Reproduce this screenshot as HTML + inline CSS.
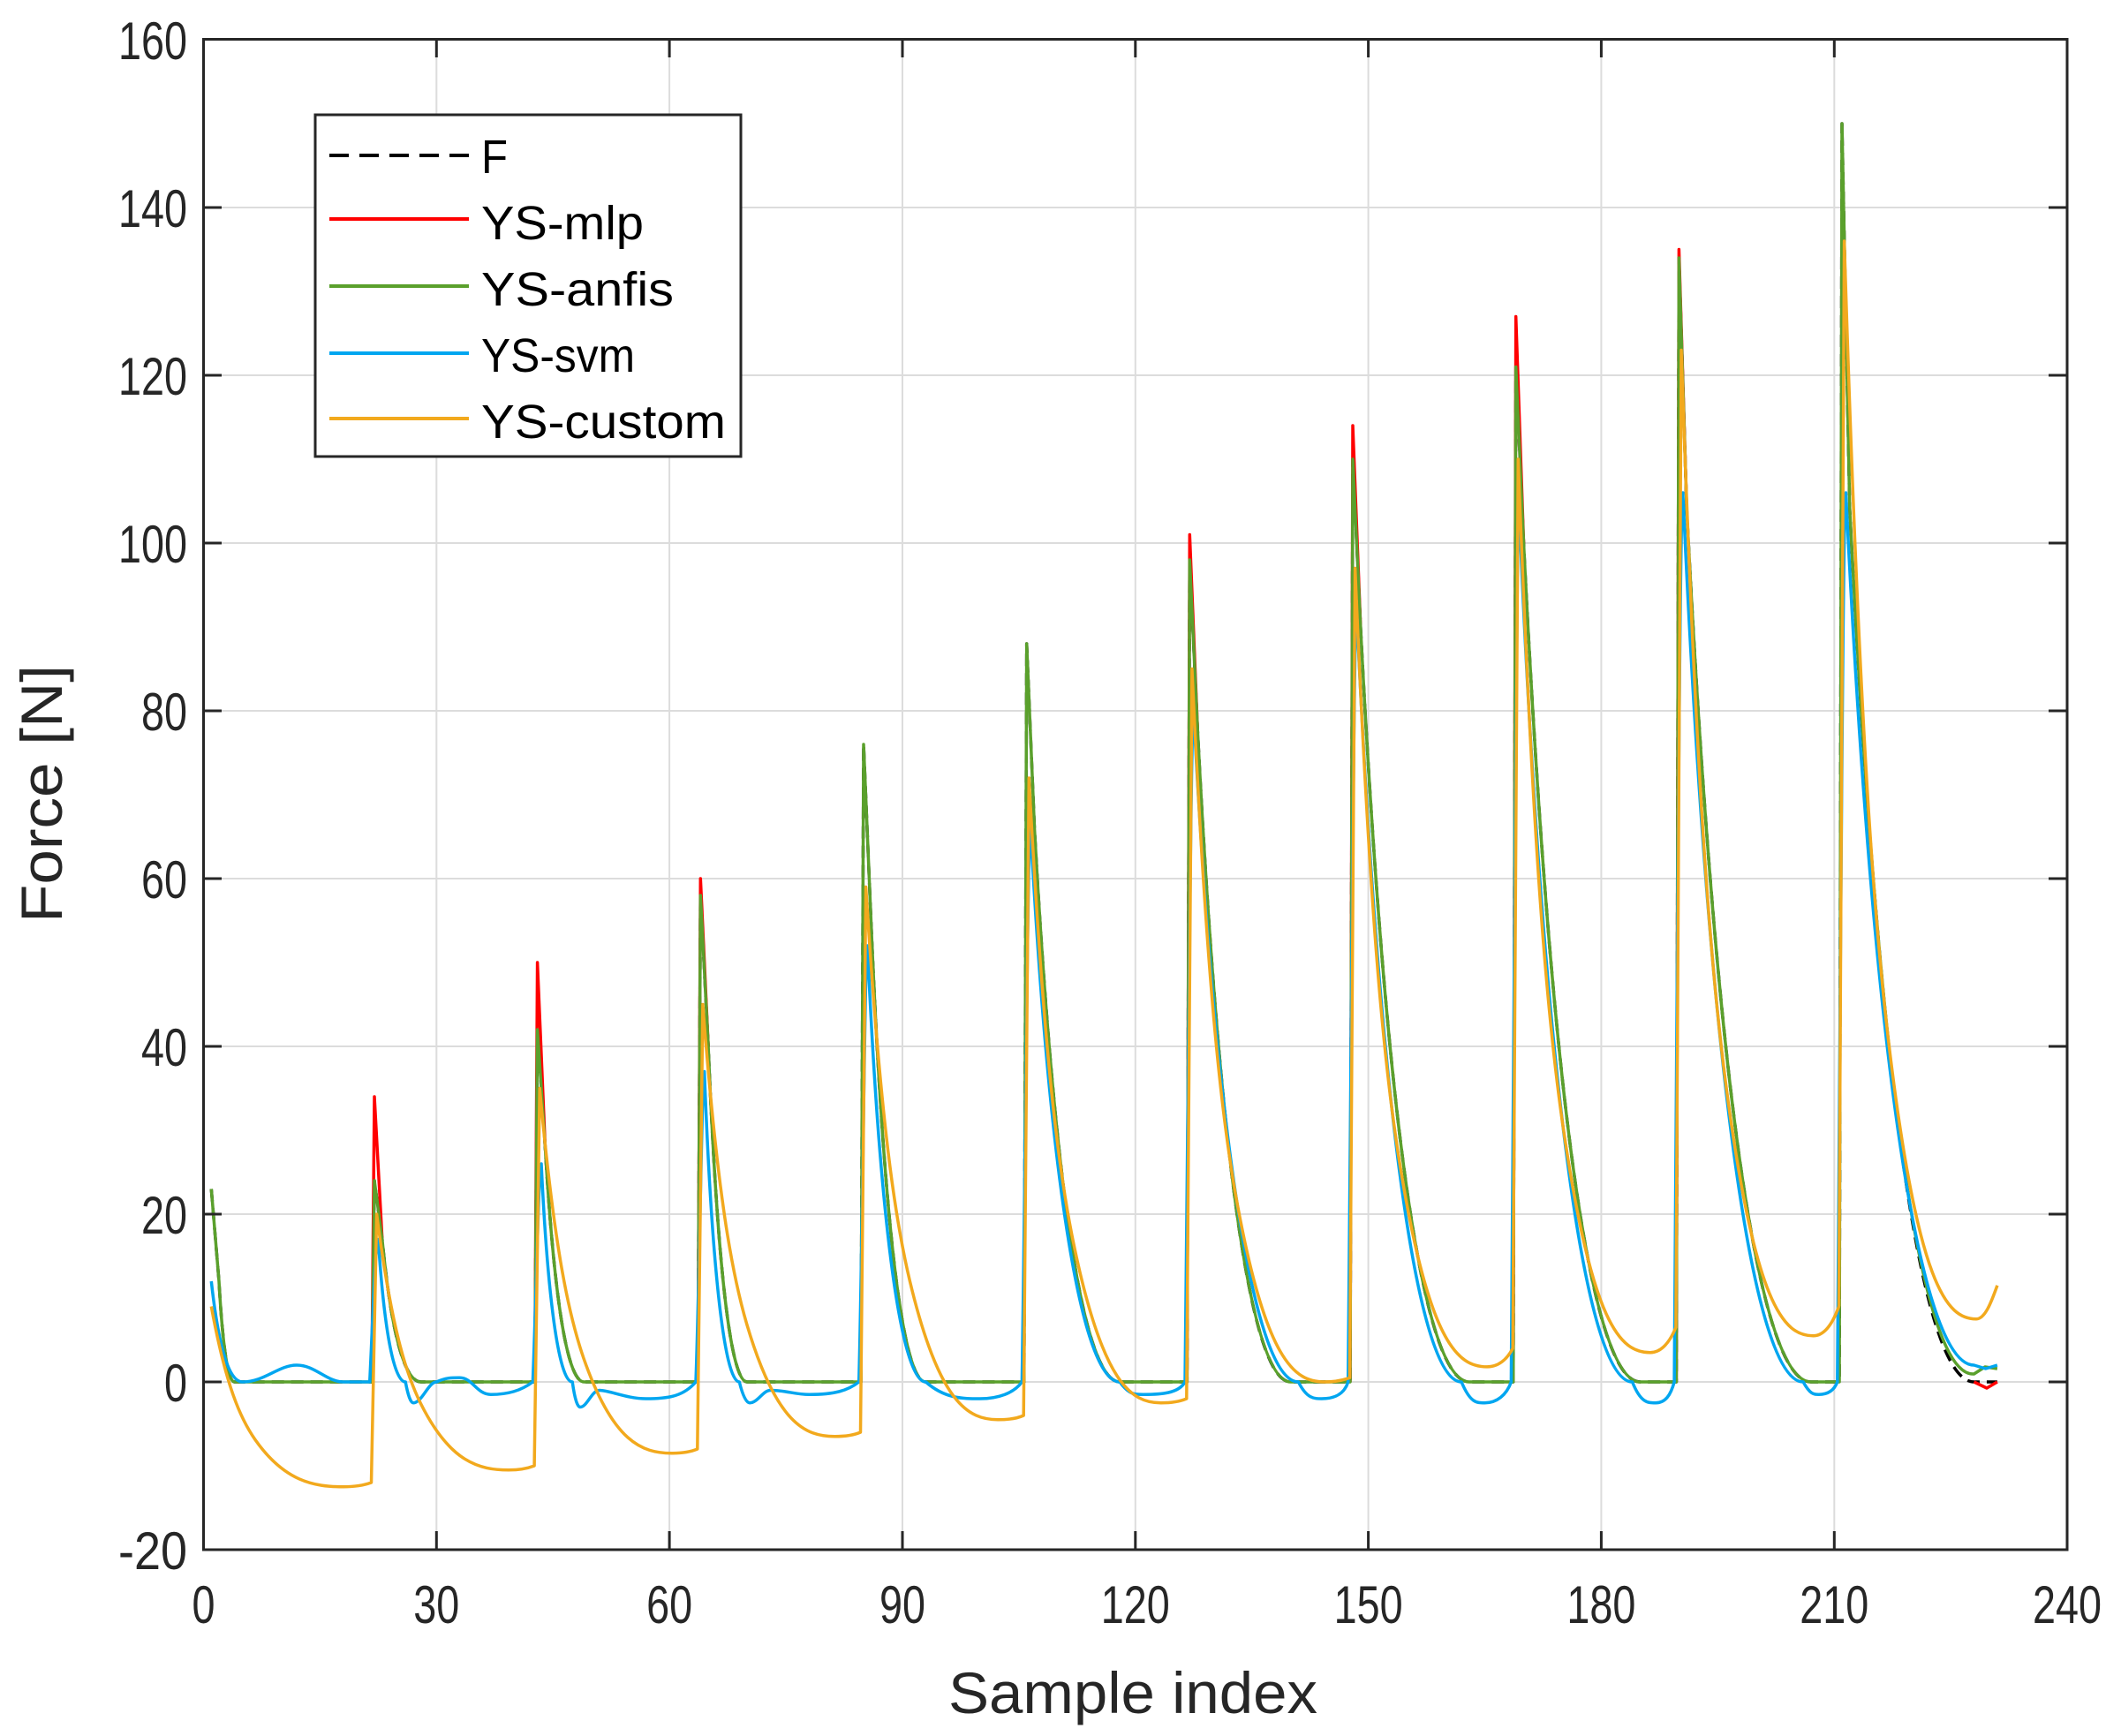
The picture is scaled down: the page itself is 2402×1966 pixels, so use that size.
<!DOCTYPE html>
<html><head><meta charset="utf-8"><style>
html,body{margin:0;padding:0;background:#fff;}
svg{display:block;font-family:"Liberation Sans",Arial,sans-serif;}
</style></head><body>
<svg width="2402" height="1966" viewBox="0 0 2402 1966" xmlns="http://www.w3.org/2000/svg">
<rect width="2402" height="1966" fill="#fff"/>
<g stroke="#dcdcdc" stroke-width="2">
<line x1="494.3" y1="44.5" x2="494.3" y2="1755"/>
<line x1="758.1" y1="44.5" x2="758.1" y2="1755"/>
<line x1="1022" y1="44.5" x2="1022" y2="1755"/>
<line x1="1285.8" y1="44.5" x2="1285.8" y2="1755"/>
<line x1="1549.6" y1="44.5" x2="1549.6" y2="1755"/>
<line x1="1813.4" y1="44.5" x2="1813.4" y2="1755"/>
<line x1="2077.3" y1="44.5" x2="2077.3" y2="1755"/>
<line x1="230.5" y1="1565" x2="2341" y2="1565"/>
<line x1="230.5" y1="1375" x2="2341" y2="1375"/>
<line x1="230.5" y1="1185" x2="2341" y2="1185"/>
<line x1="230.5" y1="995" x2="2341" y2="995"/>
<line x1="230.5" y1="805" x2="2341" y2="805"/>
<line x1="230.5" y1="615" x2="2341" y2="615"/>
<line x1="230.5" y1="425" x2="2341" y2="425"/>
<line x1="230.5" y1="235" x2="2341" y2="235"/>
</g>
<g fill="none" stroke-width="3.5" stroke-linejoin="round">
<path stroke="#000" stroke-dasharray="14,8" d="M239.3,1346.5 L248,1451 C252.5,1531 258.6,1565 265.6,1565 L421,1565 L424,1337 L432.8,1403.5 C443.8,1516.5 459.2,1565 476.8,1565 L605.6,1565 L608.6,1166 L617.4,1299 C628.4,1485.2 643.8,1565 661.4,1565 L790.3,1565 L793.3,1014 L802.1,1185 C813.1,1451 828.5,1565 846.1,1565 L975,1565 L978,843 L986.8,1052 C1002.2,1411 1023.8,1565 1048.4,1565 L1159.7,1565 L1162.7,729 L1171.5,938 C1195.7,1377 1229.5,1565 1268.2,1565 L1344.3,1565 L1347.3,634 L1356.1,824 C1382.5,1343 1419.4,1565 1461.6,1565 L1529,1565 L1532,520 L1540.8,710 C1571.6,1308.5 1614.7,1565 1663.9,1565 L1713.7,1565 L1716.7,415.5 L1725.5,615 C1758.5,1280 1804.6,1565 1857.4,1565 L1898.4,1565 L1901.4,292 L1910.2,577 C1945.4,1268.6 1994.6,1565 2050.9,1565 L2083,1565 L2086,140 L2094.8,577 C2130,1268.6 2179.2,1565 2235.5,1565 L2261.9,1565"/>
<path stroke="#ff0000" d="M421,1565 L424,1242 L432.8,1403.5 M605.6,1565 L608.6,1090 L617.4,1299 M790.3,1565 L793.3,995 L802.1,1185 M1344.3,1565 L1347.3,605.5 L1356.1,824 M1529,1565 L1532,482 L1540.8,710 M1713.7,1565 L1716.7,358.5 L1725.5,615 M1898.4,1565 L1901.4,282.5 L1910.2,577 M2235.5,1565 L2250,1572 L2261.9,1565"/>
<path stroke="#5aa02c" d="M239.3,1346.5 L248,1451 C252.5,1531 258.6,1565 265.6,1565 L421,1565 L424,1337 L432.8,1403.5 C443.8,1516.5 459.2,1565 476.8,1565 L605.6,1565 L608.6,1166 L617.4,1299 C628.4,1485.2 643.8,1565 661.4,1565 L790.3,1565 L793.3,1014 L802.1,1185 C813.1,1451 828.5,1565 846.1,1565 L975,1565 L978,843 L986.8,1052 C1002.2,1411 1023.8,1565 1048.4,1565 L1159.7,1565 L1162.7,729 L1171.5,938 C1195.7,1377 1229.5,1565 1268.2,1565 L1344.3,1565 L1347.3,634 L1356.1,824 C1382.5,1343 1419.4,1565 1461.6,1565 L1529,1565 L1532,520 L1540.8,710 C1571.6,1308.5 1614.7,1565 1663.9,1565 L1713.7,1565 L1716.7,415.5 L1725.5,615 C1758.5,1280 1804.6,1565 1857.4,1565 L1898.4,1565 L1901.4,292 L1910.2,577 C1945.4,1268.6 1994.6,1565 2050.9,1565 L2083,1565 L2086,140 L2094.8,577 C2130,1268.6 2179.2,1560 2235.5,1556 L2248,1548 L2261.9,1550"/>
<path stroke="#00a6f0" d="M239.3,1451 C248,1530 260,1565 274.5,1565 C300,1565 315,1546 336,1546 C357,1546 370,1565 388.8,1565 L418.7,1565
C422,1500 425,1403.5 428.4,1403.5 C434.6,1500.5 445.3,1565 459.2,1565 C462,1580 465,1588.75 468,1588.75 C478,1588.75 485,1565 494.4,1565 C505,1560 512,1560.25 520.7,1560.25 C535,1560.25 540,1579.25 555.9,1579.25 C575,1579.25 590,1575 603.4,1565
C607,1480 610,1318 613,1318 C620,1466 632.4,1565 648.2,1565 C651,1585 654,1593.5 657,1593.5 C665,1593.5 670,1574.5 679,1574.5 C690,1574.5 710,1584 731.8,1584 C760,1584 775,1580 788,1565
C792,1460 795,1213.5 797.7,1213.5 C805.6,1424.4 819.5,1565 837.3,1565 C841,1580 845,1588.75 849,1588.75 C858,1588.75 864,1574.5 872.5,1574.5 C890,1574.5 900,1579.25 916.4,1579.25 C945,1579.25 960,1575 972.7,1565
C977,1400 979.5,1071 982.4,1071 C995.6,1367.4 1018.7,1565 1048.4,1565 C1070,1584 1090,1584 1109.9,1584 C1130,1584 1148,1578 1157.4,1565
C1161.5,1300 1164,938 1167.1,938 C1187.3,1314.2 1222.7,1565 1268.2,1565 C1278,1579.25 1285,1579.25 1294.6,1579.25 C1315,1579.25 1335,1578 1342,1565
C1346,1200 1349,805 1351.7,805 C1375.4,1261 1417,1565 1470.4,1565 C1480,1584 1488,1584 1496.8,1584 C1510,1584 1522,1580 1526.7,1565
C1531,1100 1533.5,691 1536.4,691 C1560.1,1215.4 1601.7,1565 1655.1,1565 C1665,1588.75 1672,1588.75 1681.5,1588.75 C1695,1588.75 1706,1580 1711.4,1565
C1715.5,1000 1718,596 1721.1,596 C1746.6,1177.4 1791.2,1565 1848.6,1565 C1858,1588.75 1866,1588.75 1875,1588.75 C1886,1588.75 1892,1580 1896.1,1565
C1900,1000 1903,558 1905.8,558 C1933,1162.2 1980.8,1565 2042.1,1565 C2050,1579.25 2054,1579.25 2059.7,1579.25 C2070,1579.25 2077,1575 2080.8,1565
C2085,1000 2087.5,558 2090.4,558 C2119.4,1162.2 2170,1546 2235.5,1546 L2248.7,1550 L2261.9,1546"/>
<path stroke="#f2a91d" d="M239.3,1479.5 C255.9,1570.2 272.5,1607 289.1,1630.6 C322.4,1677.9 355.6,1683.75 388.8,1683.75 C405,1683.75 415,1681 420.5,1679 L426.6,1375
C443.2,1503.6 459.8,1555.8 476.4,1589.4 C509.7,1656.4 542.9,1664.75 576.1,1664.75 C592,1664.75 600,1662 605.1,1660 L611.2,1232.5
C627.8,1416 644.4,1490.3 661,1538.3 C694.3,1633.8 727.5,1645.75 760.7,1645.75 C777,1645.75 785,1643 789.8,1641 L795.9,1137.5
C812.5,1354.8 829.1,1442.8 845.7,1499.5 C879,1612.6 912.2,1626.75 945.4,1626.75 C961,1626.75 970,1624 974.5,1622 L980.6,1004.5
C997.2,1272.3 1013.8,1380.9 1030.4,1450.9 C1063.7,1590.3 1096.9,1607.75 1130.1,1607.75 C1146,1607.75 1155,1605 1159.2,1603 L1165.3,881
C1181.9,1195.3 1198.5,1322.7 1215.1,1404.7 C1248.4,1568.2 1281.6,1588.75 1314.8,1588.75 C1330,1588.75 1339,1586 1343.8,1584 L1349.9,757.5
C1366.5,1116 1383.1,1261.4 1399.7,1355.05 C1433,1541.5 1466.2,1565 1499.4,1565 C1515,1565 1524,1562 1528.5,1560.25 L1534.6,643.5
C1551.2,1045 1567.8,1207.8 1584.4,1312.8 C1617.7,1521.7 1650.9,1547.9 1684.1,1547.9 C1700,1547.9 1709,1535 1713.2,1527 L1719.3,520
C1735.9,969.25 1752.5,1151.4 1769.1,1268.7 C1802.4,1502.4 1835.6,1531.75 1868.8,1531.75 C1884,1531.75 1893,1515 1897.9,1503.25 L1904,396.5
C1920.6,892.1 1937.2,1093 1953.8,1222.5 C1987.1,1480.4 2020.3,1512.75 2053.5,1512.75 C2069,1512.75 2078,1492 2082.5,1479.5 L2088.6,273
C2105.2,815 2121.8,1034.7 2138.4,1176.4 C2171.7,1458.3 2204.9,1493.75 2238.1,1493.75 C2248,1493.75 2255,1475 2261.9,1455.75"/>
</g>
<rect x="230.5" y="44.5" width="2110.5" height="1710.5" fill="none" stroke="#262626" stroke-width="3"/>
<g stroke="#262626" stroke-width="3">
<line x1="494.3" y1="1755" x2="494.3" y2="1734"/><line x1="758.1" y1="1755" x2="758.1" y2="1734"/><line x1="1022" y1="1755" x2="1022" y2="1734"/><line x1="1285.8" y1="1755" x2="1285.8" y2="1734"/><line x1="1549.6" y1="1755" x2="1549.6" y2="1734"/><line x1="1813.4" y1="1755" x2="1813.4" y2="1734"/><line x1="2077.3" y1="1755" x2="2077.3" y2="1734"/>
<line x1="494.3" y1="44.5" x2="494.3" y2="65"/><line x1="758.1" y1="44.5" x2="758.1" y2="65"/><line x1="1022" y1="44.5" x2="1022" y2="65"/><line x1="1285.8" y1="44.5" x2="1285.8" y2="65"/><line x1="1549.6" y1="44.5" x2="1549.6" y2="65"/><line x1="1813.4" y1="44.5" x2="1813.4" y2="65"/><line x1="2077.3" y1="44.5" x2="2077.3" y2="65"/>
<line x1="230.5" y1="1565" x2="251" y2="1565"/><line x1="230.5" y1="1375" x2="251" y2="1375"/><line x1="230.5" y1="1185" x2="251" y2="1185"/><line x1="230.5" y1="995" x2="251" y2="995"/><line x1="230.5" y1="805" x2="251" y2="805"/><line x1="230.5" y1="615" x2="251" y2="615"/><line x1="230.5" y1="425" x2="251" y2="425"/><line x1="230.5" y1="235" x2="251" y2="235"/>
<line x1="2341" y1="1565" x2="2320" y2="1565"/><line x1="2341" y1="1375" x2="2320" y2="1375"/><line x1="2341" y1="1185" x2="2320" y2="1185"/><line x1="2341" y1="995" x2="2320" y2="995"/><line x1="2341" y1="805" x2="2320" y2="805"/><line x1="2341" y1="615" x2="2320" y2="615"/><line x1="2341" y1="425" x2="2320" y2="425"/><line x1="2341" y1="235" x2="2320" y2="235"/>
</g>
<g font-size="60" fill="#262626" text-anchor="end">
<text x="212" y="1777" textLength="78" lengthAdjust="spacingAndGlyphs">-20</text>
<text x="212" y="1587" textLength="26" lengthAdjust="spacingAndGlyphs">0</text>
<text x="212" y="1397" textLength="52" lengthAdjust="spacingAndGlyphs">20</text>
<text x="212" y="1207" textLength="52" lengthAdjust="spacingAndGlyphs">40</text>
<text x="212" y="1017" textLength="52" lengthAdjust="spacingAndGlyphs">60</text>
<text x="212" y="827" textLength="52" lengthAdjust="spacingAndGlyphs">80</text>
<text x="212" y="637" textLength="78" lengthAdjust="spacingAndGlyphs">100</text>
<text x="212" y="447" textLength="78" lengthAdjust="spacingAndGlyphs">120</text>
<text x="212" y="257" textLength="78" lengthAdjust="spacingAndGlyphs">140</text>
<text x="212" y="67" textLength="78" lengthAdjust="spacingAndGlyphs">160</text>
</g>
<g font-size="60" fill="#262626" text-anchor="middle">
<text x="230.5" y="1838" textLength="26" lengthAdjust="spacingAndGlyphs">0</text>
<text x="494.3" y="1838" textLength="52" lengthAdjust="spacingAndGlyphs">30</text>
<text x="758.1" y="1838" textLength="52" lengthAdjust="spacingAndGlyphs">60</text>
<text x="1022" y="1838" textLength="52" lengthAdjust="spacingAndGlyphs">90</text>
<text x="1285.8" y="1838" textLength="78" lengthAdjust="spacingAndGlyphs">120</text>
<text x="1549.6" y="1838" textLength="78" lengthAdjust="spacingAndGlyphs">150</text>
<text x="1813.4" y="1838" textLength="78" lengthAdjust="spacingAndGlyphs">180</text>
<text x="2077.3" y="1838" textLength="78" lengthAdjust="spacingAndGlyphs">210</text>
<text x="2341" y="1838" textLength="78" lengthAdjust="spacingAndGlyphs">240</text>
</g>
<text x="1283" y="1940" font-size="66" text-anchor="middle" fill="#262626" textLength="418" lengthAdjust="spacingAndGlyphs">Sample index</text>
<text transform="translate(70,899) rotate(-90)" font-size="66" text-anchor="middle" fill="#262626" textLength="292" lengthAdjust="spacingAndGlyphs">Force [N]</text>
<g>
<rect x="357" y="130" width="482" height="387" fill="#fff" stroke="#262626" stroke-width="3"/>
<line x1="373" y1="176" x2="531" y2="176" stroke="#000" stroke-width="4" stroke-dasharray="22,12"/>
<text x="545" y="196" font-size="54" fill="#000" textLength="30" lengthAdjust="spacingAndGlyphs">F</text>
<line x1="373" y1="248" x2="531" y2="248" stroke="#ff0000" stroke-width="4"/>
<text x="545" y="271" font-size="54" fill="#000" textLength="184" lengthAdjust="spacingAndGlyphs">YS-mlp</text>
<line x1="373" y1="324" x2="531" y2="324" stroke="#5aa02c" stroke-width="4"/>
<text x="545" y="346" font-size="54" fill="#000" textLength="218" lengthAdjust="spacingAndGlyphs">YS-anfis</text>
<line x1="373" y1="400" x2="531" y2="400" stroke="#00a6f0" stroke-width="4"/>
<text x="545" y="421" font-size="54" fill="#000" textLength="174" lengthAdjust="spacingAndGlyphs">YS-svm</text>
<line x1="373" y1="474" x2="531" y2="474" stroke="#f2a91d" stroke-width="4"/>
<text x="545" y="496" font-size="54" fill="#000" textLength="277" lengthAdjust="spacingAndGlyphs">YS-custom</text>
</g>
</svg>
</body></html>
